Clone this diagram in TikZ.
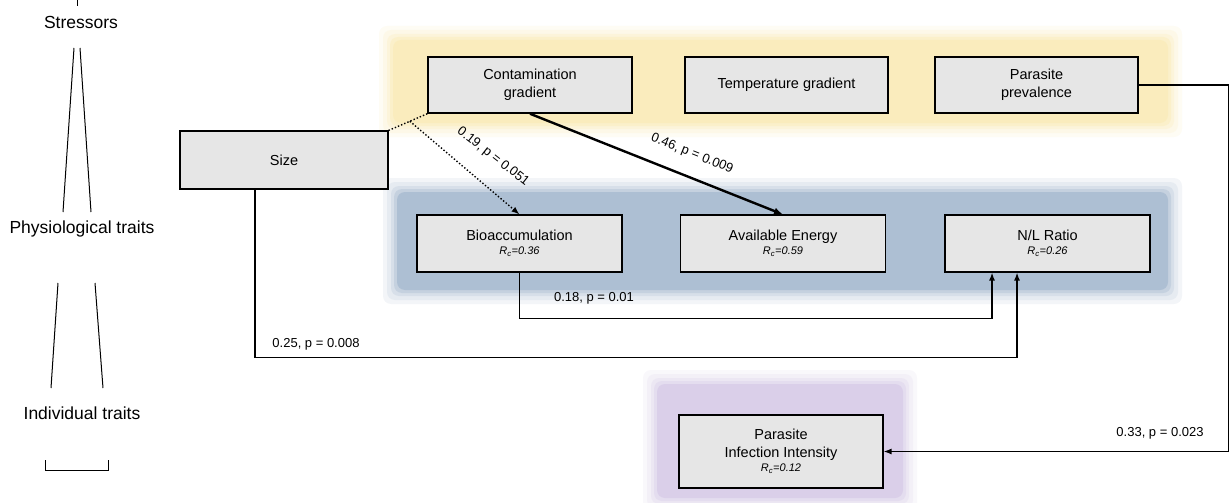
\documentclass[tikz,border=0pt]{standalone}
\usepackage{fontspec}
\setmainfont{Liberation Sans}
\usetikzlibrary{arrows.meta,calc}
\definecolor{glowY}{HTML}{F9E7A6}
\definecolor{glowB}{HTML}{9DB3CB}
\definecolor{glowP}{HTML}{D4C6E6}
\definecolor{boxfill}{HTML}{E6E6E6}
\newcommand{\glowrect}[6]{%
  \foreach \d/\op in {14/0.12,10/0.15,6/0.2,3/0.3,0/#6}{
    \fill[#1, opacity=\op, rounded corners=8] ({#2-\d},{#3-\d}) rectangle ({#4+\d},{#5+\d});}}
\newcommand{\rcv}[1]{{\fontsize{11}{13}\selectfont\itshape R\textsubscript{c}=#1}}
\begin{document}
\begin{tikzpicture}[x=1pt,y=-1pt,
  box/.style={draw=black, line width=1.1pt, fill=boxfill, minimum width=204pt,
    minimum height=56pt, align=center, font=\fontsize{14.5}{18}\selectfont, inner sep=2pt},
  lbl/.style={font=\fontsize{13}{15}\selectfont, inner sep=1pt},
  side/.style={font=\fontsize{17.5}{20}\selectfont, inner sep=1pt},
  conn/.style={line width=1.4pt, -{Latex[length=8pt,width=6pt]}},
  plain/.style={line width=1.4pt},
  sidel/.style={line width=1pt}]
\useasboundingbox (0,0) rectangle (1231,503);
\fill[white] (0,0) rectangle (1231,503);

% background groups
\glowrect{glowY}{393}{40}{1168}{123}{0.35}
\glowrect{glowB}{397}{192}{1168}{290}{0.6}
\glowrect{glowP}{657}{384}{903}{498}{0.6}

% boxes
\node[box, line width=1.5pt] (contam) at (530,85) {Contamination\\gradient};
\node[box, minimum width=203pt] (temp) at (786.5,85) {Temperature gradient};
\node[box, minimum width=203pt] (prev) at (1036.5,85) {Parasite\\prevalence};
\node[box, minimum width=208pt, minimum height=58pt] (size) at (284,160) {Size};
\node[box, minimum width=205pt, minimum height=57pt] (bio) at (519.5,243.5) {Bioaccumulation\\[-4pt]\rcv{0.36}};
\node[box, minimum width=205pt, minimum height=57pt] (energy) at (783,243.5) {Available Energy\\[-4pt]\rcv{0.59}};
\node[box, minimum width=205pt, minimum height=57pt] (nl) at (1047.5,243.5) {N/L Ratio\\[-4pt]\rcv{0.26}};
\node[box, minimum width=204pt, minimum height=73pt] (inf) at (781,451.5) {Parasite\\Infection Intensity\\[-4pt]\rcv{0.12}};

% connectors
\draw[plain, dotted] (size.north east) -- coordinate[pos=0.55] (split) (contam.south west);
\draw[conn, dotted] (split) -- (bio.north);
\draw[line width=2.4pt, -{Latex[length=9pt,width=7pt]}] (contam.south) -- (energy.north);
\draw[conn] (bio.south) -- ++(0,46) -| ([xshift=-55.5pt]nl.south);
\draw[conn] ([xshift=-29pt]size.south) -- ++(0,168) -| ([xshift=-30.5pt]nl.south);
\draw[conn] (prev.east) -- ++(90,0) |- (inf.east);

% connector labels
\node[lbl, rotate=-38] at (493,157) {0.19, p = 0.051};
\node[lbl, rotate=-22] at (692,154) {0.46, p = 0.009};
\node[lbl] at (594,298) {0.18, p = 0.01};
\node[lbl] at (316,344) {0.25, p = 0.008};
\node[lbl] at (1160,433) {0.33, p = 0.023};

% left side hierarchy
\coordinate (t0) at (77,0);
\coordinate (t1) at (77,6);
\draw[sidel] (t0) -- (t1);
\node[side] (stress) at (81,22) {Stressors};
\node[side] (phys) at (82,229) {Physiological traits};
\node[side] (indiv) at (82,413) {Individual traits};
\coordinate (a1) at (74,48); \coordinate (a2) at (63,212);
\coordinate (b1) at (80,48); \coordinate (b2) at (91,212);
\coordinate (c1) at (58,283); \coordinate (c2) at (51,388);
\coordinate (d1) at (95,283); \coordinate (d2) at (103,388);
\draw[sidel] (a1) -- (a2);
\draw[sidel] (b1) -- (b2);
\draw[sidel] (c1) -- (c2);
\draw[sidel] (d1) -- (d2);
\coordinate (e1) at (45,460); \coordinate (e2) at (108,460);
\draw[sidel] (e1) -- (45,470) -- (108,470) -- (e2);
\end{tikzpicture}
\end{document}
